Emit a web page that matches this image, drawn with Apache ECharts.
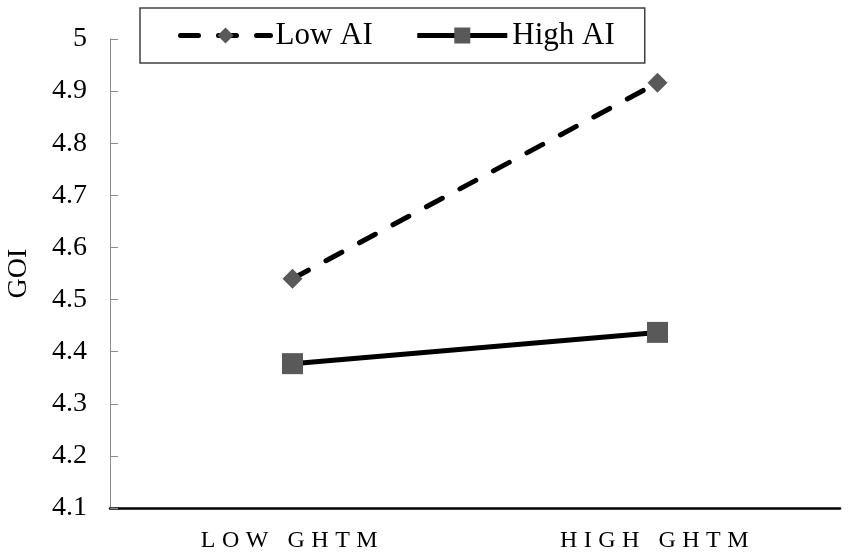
<!DOCTYPE html>
<html>
<head>
<meta charset="utf-8">
<script src="https://cdn.jsdelivr.net/npm/echarts@6/dist/echarts.min.js"></script>
<style>
html,body{margin:0;padding:0;background:#fff;}
#chart{width:850px;height:557px;}
</style>
</head>
<body>
<div id="chart"></div>
<script>
const categories = ['LOW GHTM', 'HIGH GHTM'];
const lowAI = [4.54, 4.916];
const highAI = [4.377, 4.437];
const yTicks = { min: 4.1, max: 5, interval: 0.1 };
const seriesNames = ['Low AI', 'High AI'];

// widen letter spacing of the category labels only (canvas)
(function () {
  const proto = CanvasRenderingContext2D.prototype;
  const origFill = proto.fillText;
  proto.fillText = function (text) {
    if ('letterSpacing' in this) {
      this.letterSpacing = categories.indexOf(text) >= 0 ? '6.5px' : '0px';
    }
    const r = origFill.apply(this, arguments);
    if ('letterSpacing' in this) this.letterSpacing = '0px';
    return r;
  };
})();

const chart = echarts.init(document.getElementById('chart'), null, { renderer: 'canvas' });
const serif = 'Liberation Serif';

chart.setOption({
  animation: false,
  backgroundColor: '#fff',
  textStyle: { fontFamily: serif, color: '#000' },
  grid: { left: 110, right: 10, top: 39, bottom: 49, outerBoundsMode: 'none', containLabel: false },
  legend: {
    left: 140, top: 8,
    padding: [12, 30, 12, 38],
    itemGap: 42,
    itemWidth: 90, itemHeight: 20,
    borderColor: '#404040', borderWidth: 1.5,
    lineStyle: { width: 5 },
    textStyle: { fontFamily: serif, fontSize: 31, color: '#000' },
    data: seriesNames
  },
  xAxis: {
    type: 'category',
    data: categories,
    axisLine: { lineStyle: { color: '#000', width: 2.5 } },
    axisTick: { show: false },
    axisLabel: { fontFamily: serif, fontSize: 24, color: '#000', margin: 21 },
    splitLine: { show: false }
  },
  yAxis: {
    type: 'value',
    min: yTicks.min, max: yTicks.max, interval: yTicks.interval,
    name: 'GOI',
    nameLocation: 'middle',
    nameGap: 77,
    nameRotate: 90,
    nameTextStyle: { fontFamily: serif, fontSize: 28, color: '#000' },
    axisLine: { show: true, lineStyle: { color: '#8c8c8c', width: 1 } },
    axisTick: { show: true, inside: true, length: 8, lineStyle: { color: '#8c8c8c' } },
    axisLabel: {
      fontFamily: serif, fontSize: 28, color: '#000', margin: 23,
      formatter: v => String(Math.round(v * 10) / 10)
    },
    splitLine: { show: false }
  },
  series: [
    {
      name: seriesNames[0], type: 'line', data: lowAI,
      symbol: 'diamond', symbolSize: 20,
      itemStyle: { color: '#595959' },
      lineStyle: { color: '#000', width: 5, type: [18, 20], cap: 'round' },
      z: 3
    },
    {
      name: seriesNames[1], type: 'line', data: highAI,
      symbol: 'rect', symbolSize: 21,
      itemStyle: { color: '#595959' },
      lineStyle: { color: '#000', width: 5, type: 'solid' },
      z: 3
    }
  ]
});
</script>
</body>
</html>
